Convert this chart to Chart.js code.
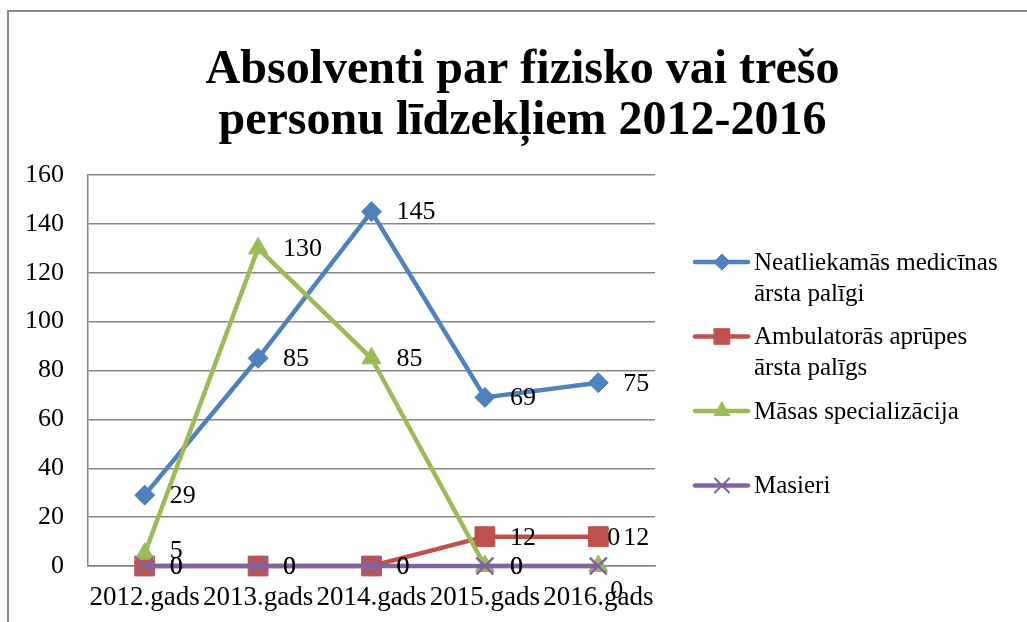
<!DOCTYPE html>
<html>
<head>
<meta charset="utf-8">
<script src="https://cdn.jsdelivr.net/npm/chart.js@4/dist/chart.umd.min.js"></script>
<style>
  body { margin: 0; background: #fff; }
</style>
</head>
<body>
<canvas id="grafiks" width="1027" height="622"></canvas>
<script>
// Dati nolasīti no attēla
const gadi = ['2012.gads', '2013.gads', '2014.gads', '2015.gads', '2016.gads'];
const neatliekamas = [29, 85, 145, 69, 75];
const ambulatoras = [0, 0, 0, 12, 12];
const masas = [5, 130, 85, 0, 0];
const masieri = [0, 0, 0, 0, 0];

const nosaukumi = [
  ['Neatliekamās medicīnas', 'ārsta palīgi'],
  ['Ambulatorās aprūpes', 'ārsta palīgs'],
  ['Māsas specializācija'],
  ['Masieri']
];
const virsraksts = ['Absolventi par fizisko vai trešo', 'personu līdzekļiem 2012-2016'];
const yMin = 0, yMax = 160, ySolis = 20;

const fonts = '"Liberation Serif", "Times New Roman", serif';
const pelēks = '#868686';

// rāmis ap visu diagrammu
const ramis = {
  id: 'ramis',
  beforeDraw(chart) {
    const ctx = chart.ctx;
    ctx.save();
    ctx.strokeStyle = '#8a8a8a';
    ctx.lineWidth = 2;
    ctx.strokeRect(8, 11, chart.width + 50, chart.height + 50);
    ctx.restore();
  }
};

// vērtību etiķetes pa labi no punktiem
const etiketes = {
  id: 'etiketes',
  afterDatasetsDraw(chart, args, opts) {
    const ctx = chart.ctx;
    ctx.save();
    ctx.font = '26px ' + fonts;
    ctx.fillStyle = '#000';
    ctx.textAlign = 'left';
    ctx.textBaseline = 'middle';
    chart.data.datasets.forEach((ds, i) => {
      chart.getDatasetMeta(i).data.forEach((pt, j) => {
        const nob = opts.nobides[i + '-' + j] || [0, 0];
        ctx.fillText(String(ds.data[j]), pt.x + 25 + nob[0], pt.y + 1 + nob[1]);
      });
    });
    ctx.restore();
  }
};

// leģenda labajā pusē
const legenda = {
  id: 'legenda',
  afterDraw(chart) {
    const ctx = chart.ctx;
    const x0 = chart.chartArea.right + 40;
    ctx.save();
    ctx.font = '25px ' + fonts;
    ctx.textAlign = 'left';
    ctx.textBaseline = 'middle';
    chart.data.datasets.forEach((ds, i) => {
      const y = 262 + i * 74.5;
      ctx.strokeStyle = ds.borderColor;
      ctx.lineWidth = 4.5;
      ctx.lineCap = 'round';
      ctx.beginPath();
      ctx.moveTo(x0, y);
      ctx.lineTo(x0 + 53, y);
      ctx.stroke();
      ctx.fillStyle = ds.backgroundColor;
      ctx.lineWidth = ds.pointStyle === 'crossRot' ? 2 : 1;
      Chart.helpers.drawPoint(ctx, {
        pointStyle: ds.pointStyle,
        radius: ds.legendRadius,
        rotation: 0,
        borderWidth: ctx.lineWidth
      }, x0 + 27, y);
      ctx.fillStyle = '#000';
      nosaukumi[i].forEach((t, k) => ctx.fillText(t, x0 + 59, y + 1 + k * 31));
    });
    ctx.restore();
  }
};

function serija(label, data, krasa, stils, r, lr, kartas) {
  return {
    label: label,
    data: data,
    borderColor: krasa,
    backgroundColor: krasa,
    borderWidth: 4.5,
    pointStyle: stils,
    pointRadius: r,
    pointHoverRadius: r,
    pointBorderWidth: stils === 'crossRot' ? 2.5 : 1,
    legendRadius: lr,
    tension: 0,
    clip: false,
    order: kartas
  };
}

new Chart(document.getElementById('grafiks'), {
  type: 'line',
  data: {
    labels: gadi,
    datasets: [
      serija(nosaukumi[0].join(' '), neatliekamas, '#4F81BD', 'rectRot', 10, 8, 3),
      serija(nosaukumi[1].join(' '), ambulatoras, '#C0504D', 'rect', 14, 11, 2),
      serija(nosaukumi[2].join(' '), masas, '#9BBB59', 'triangle', 11, 9, 1),
      serija(nosaukumi[3].join(' '), masieri, '#8064A2', 'crossRot', 12, 10, 0)
    ]
  },
  options: {
    responsive: false,
    animation: false,
    layout: { padding: { left: 18, right: 0, top: 0, bottom: 0 } },
    plugins: {
      legend: { display: false },
      tooltip: { enabled: false },
      title: {
        display: true,
        text: virsraksts,
        color: '#000',
        font: { family: fonts, size: 48, weight: 'bold', lineHeight: '51px' },
        padding: { top: 45, bottom: 28 }
      },
      etiketes: {
        nobides: { '2-0': [0, -4], '2-4': [-13, 24], '3-4': [-16, -29] }
      }
    },
    scales: {
      x: {
        type: 'category',
        offset: true,
        grid: { display: false },
        border: { color: pelēks, width: 1.5 },
        ticks: { color: '#000', font: { family: fonts, size: 27 }, padding: 8, maxRotation: 0, autoSkip: false },
        afterFit(s) { s.height = 56; }
      },
      y: {
        position: 'left',
        min: yMin,
        max: yMax,
        ticks: { stepSize: ySolis, color: '#000', font: { family: fonts, size: 26 }, padding: 24 },
        grid: { color: pelēks, lineWidth: 1.5, drawTicks: false },
        border: { color: pelēks, width: 1.5 },
        afterFit(s) { s.width = 70; }
      },
      atstarpe: {
        type: 'linear',
        position: 'right',
        grid: { display: false },
        border: { display: false },
        ticks: { display: false },
        afterFit(s) { s.width = 372; }
      }
    }
  },
  plugins: [ramis, etiketes, legenda]
});
</script>
</body>
</html>
